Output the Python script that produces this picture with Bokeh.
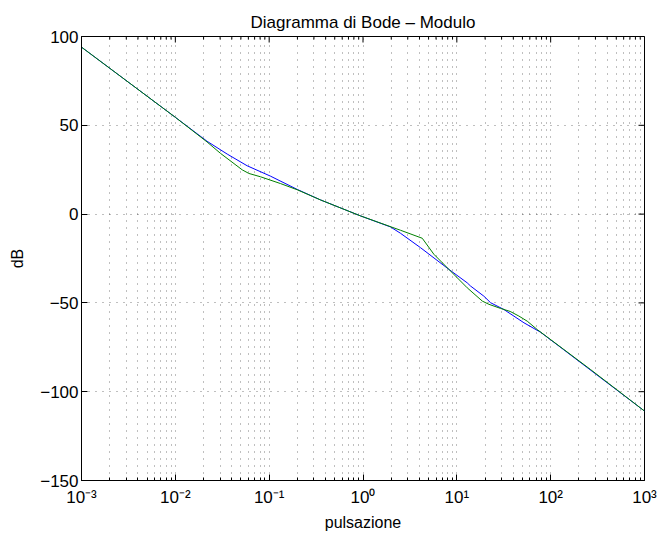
import math
from bokeh.plotting import figure
from bokeh.models import Range1d, FixedTicker
from bokeh.embed import file_html
from bokeh.resources import INLINE

TITLE = "Diagramma di Bode – Modulo"
XLABEL = "pulsazione"
YLABEL = "dB"

# blue curve (exact magnitude)
blue_w = [0.001, 0.01, 0.0218, 0.0357, 0.0583, 0.103, 0.199, 0.352, 0.94,
          1.96, 2.51, 4.1, 8.22, 12.9, 14.0, 19.4, 22.9, 31.7, 51.9, 78.0, 138.0, 1000.0]
blue_db = [94.0, 54.5, 41.0, 33.8, 27.2, 21.4, 13.9, 8.0, -1.0,
           -7.2, -10.8, -18.9, -31.1, -38.7, -40.5, -46.2, -49.9, -53.7, -61.2, -66.5, -76.4, -110.9]

# green curve (approximation)
green_w = [0.001, 0.01, 0.0218, 0.0303, 0.0517, 0.0607, 0.081, 0.132, 0.199, 0.352,
           0.94, 2.51, 4.28, 5.69, 8.22, 12.9, 18.7, 22.0, 29.2, 37.0, 45.8, 56.3,
           71.9, 138.0, 266.0, 1000.0]
green_db = [94.0, 54.5, 40.6, 34.2, 24.9, 22.9, 21.0, 17.2, 13.7, 8.0,
            -1.0, -9.1, -13.6, -22.6, -31.1, -41.5, -49.0, -50.8, -53.1, -54.8, -57.4, -60.3,
            -65.0, -76.2, -87.5, -110.9]

x_ticks = [0.001, 0.01, 0.1, 1.0, 10.0, 100.0, 1000.0]
x_tick_labels = ["10⁻³", "10⁻²", "10⁻¹", "10⁰", "10¹", "10²", "10³"]
x_minor = [m * d for d in x_ticks[:-1] for m in range(2, 10)]
y_ticks = [-150, -100, -50, 0, 50, 100]
y_tick_labels = ["−150", "−100", "−50", "0", "50", "100"]
X_MIN, X_MAX = 1e-3, 1e3
Y_MIN, Y_MAX = -150, 100

FONT = "Liberation Sans"

p = figure(frame_width=563, frame_height=444, x_axis_type="log",
           x_range=Range1d(X_MIN, X_MAX), y_range=Range1d(Y_MIN, Y_MAX),
           output_backend="svg", toolbar_location=None,
           min_border_left=81, min_border_right=15, min_border_top=36, min_border_bottom=54)

p.title.text = TITLE
p.title.align = "center"
p.title.text_font = FONT
p.title.text_font_size = "17px"
p.title.text_font_style = "normal"
p.title.text_color = "black"
p.title.standoff = 10

xax = p.below[0]
yax = p.left[0]

xt = FixedTicker(ticks=x_ticks, minor_ticks=x_minor)
yt = FixedTicker(ticks=y_ticks, minor_ticks=[])
xax.ticker = xt
yax.ticker = yt

for ax in [xax, yax]:
    ax.axis_line_color = "black"
    ax.major_tick_line_color = "black"
    ax.minor_tick_line_color = "black"
    ax.major_tick_in = 6
    ax.major_tick_out = 0
    ax.minor_tick_in = 3
    ax.minor_tick_out = 0
    ax.major_label_text_font = FONT
    ax.major_label_text_font_size = "17px"
    ax.major_label_text_color = "black"
    ax.axis_label_text_font = FONT
    ax.axis_label_text_font_size = "16px"
    ax.axis_label_text_font_style = "normal"
    ax.axis_label_text_color = "black"

xax.major_label_overrides = dict(zip(x_ticks, x_tick_labels))
yax.major_label_overrides = dict(zip(y_ticks, y_tick_labels))
xax.axis_label = XLABEL
yax.axis_label = YLABEL
xax.major_label_standoff = 7
xax.axis_label_standoff = 4
yax.major_label_standoff = 3
yax.axis_label_standoff = 11

p.xgrid.ticker = xt
p.ygrid.ticker = FixedTicker(ticks=[t for t in y_ticks if Y_MIN < t < Y_MAX])
for g in [p.xgrid, p.ygrid]:
    g.grid_line_color = "black"
    g.grid_line_alpha = 0.5
    g.grid_line_dash = "1 6"
p.xgrid.minor_grid_line_color = "black"
p.xgrid.minor_grid_line_alpha = 0.5
p.xgrid.minor_grid_line_dash = "1 6"

p.outline_line_color = "black"
p.background_fill_color = "white"
p.border_fill_color = "white"

# box ticks on top and right edges (only inner half is visible, clipped by the frame)
p.scatter(x_ticks, [Y_MAX] * len(x_ticks), marker="dash", angle=math.pi / 2,
          size=12, line_color="black", line_width=1)
p.scatter(x_minor, [Y_MAX] * len(x_minor), marker="dash", angle=math.pi / 2,
          size=6, line_color="black", line_width=1)
p.scatter([X_MAX] * len(y_ticks), y_ticks, marker="dash", angle=0,
          size=12, line_color="black", line_width=1)

p.line(blue_w, blue_db, line_color="#0000ff", line_width=1)
p.line(green_w, green_db, line_color="#008000", line_width=1)

open("out.html", "w").write(file_html(p, INLINE))
